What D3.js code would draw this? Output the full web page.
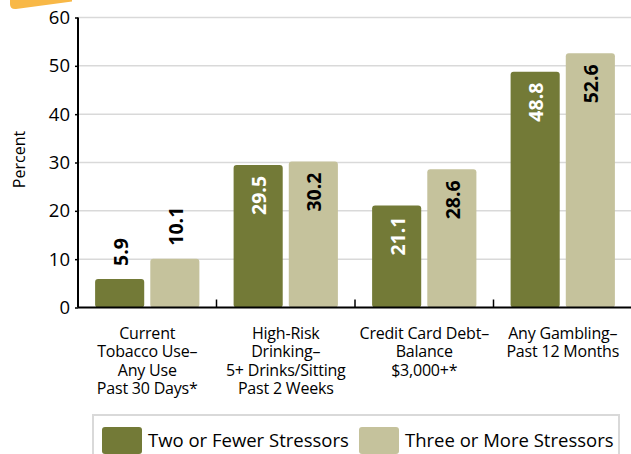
<!DOCTYPE html>
<html>
<head>
<meta charset="utf-8">
<script src="https://cdn.jsdelivr.net/npm/d3@7"></script>
<style>
  body { margin: 0; background: #fff; overflow: hidden; }
  svg { display: block; font-family: "Open Sans", sans-serif; }
</style>
</head>
<body>
<svg id="chart" width="631" height="454"></svg>
<script>
// data
const categories = [
  ['Current', 'Tobacco Use–', 'Any Use', 'Past 30 Days*'],
  ['High-Risk', 'Drinking–', '5+ Drinks/Sitting', 'Past 2 Weeks'],
  ['Credit Card Debt–', 'Balance', '$3,000+*'],
  ['Any Gambling–', 'Past 12 Months']
];
const seriesNames = ['Two or Fewer Stressors', 'Three or More Stressors'];
const twoOrFewer = [5.9, 29.5, 21.1, 48.8];
const threeOrMore = [10.1, 30.2, 28.6, 52.6];
const yTicks = [0, 10, 20, 30, 40, 50, 60];

const colors = ['#737a37', '#c5c29c'];
const labelColors = ['#fff', '#000'];

const width = 631, height = 454;
const margin = { top: 17.5, right: -1, bottom: 146.5, left: 78 };
const innerWidth = width - margin.left - margin.right;
const innerHeight = height - margin.top - margin.bottom;

const svg = d3.select('#chart');

// orange tab in the corner
svg.append('path')
  .attr('d', 'M14,0 L72,0 L72,1.5 L16,9 Q10,9.5 10,4 L10,0 Z')
  .attr('fill', '#f8b847');

const g = svg.append('g')
  .attr('transform', `translate(${margin.left},${margin.top})`);

const x = d3.scaleBand()
  .domain(d3.range(categories.length))
  .range([0, innerWidth])
  .padding(0);

const xSub = d3.scaleBand()
  .domain([0, 1])
  .range([0, x.bandwidth()])
  .paddingInner(0.11)
  .paddingOuter(0.31);

const y = d3.scaleLinear()
  .domain([0, 60])
  .range([innerHeight, 0]);

// gridlines
g.append('g')
  .selectAll('line')
  .data(yTicks.filter(d => d > 0))
  .join('line')
    .attr('x1', 0)
    .attr('x2', innerWidth)
    .attr('y1', d => y(d))
    .attr('y2', d => y(d))
    .attr('stroke', '#d9d9d9')
    .attr('stroke-width', 1.5);

// y axis
const yAxis = g.append('g')
  .call(d3.axisLeft(y).tickValues(yTicks).tickSize(3).tickPadding(5));
yAxis.select('.domain').attr('stroke', '#000').attr('stroke-width', 2).attr('d', `M0,${innerHeight}V0`);
yAxis.selectAll('.tick line').attr('stroke', '#000').attr('stroke-width', 1.5);
yAxis.selectAll('.tick text')
  .attr('font-size', 18.5)
  .attr('font-family', '"Open Sans", sans-serif')
  .attr('fill', '#000');

// y label
g.append('text')
  .attr('transform', 'rotate(-90)')
  .attr('x', -(innerHeight / 2) + 3)
  .attr('y', -margin.left + 25)
  .attr('text-anchor', 'middle')
  .attr('font-size', 16)
  .text('Percent');

// bars
const rows = categories.map((c, i) => [twoOrFewer[i], threeOrMore[i]]);
const groups = g.selectAll('.grp')
  .data(rows)
  .join('g')
    .attr('transform', (d, i) => `translate(${x(i)},0)`);

groups.selectAll('rect')
  .data(d => d.map((v, s) => ({ v, s })))
  .join('rect')
    .attr('x', d => xSub(d.s))
    .attr('y', d => y(d.v))
    .attr('width', xSub.bandwidth())
    .attr('height', d => innerHeight - y(d.v))
    .attr('rx', 3)
    .attr('fill', d => colors[d.s]);

// value labels, inside the bar if it is tall enough
groups.selectAll('.val')
  .data(d => d.map((v, s) => ({ v, s })))
  .join('text')
    .attr('class', 'val')
    .attr('transform', d => {
      const inside = d.v > 15;
      const ty = inside ? y(d.v) + 11 : y(d.v) - 13;
      return `translate(${xSub(d.s) + xSub.bandwidth() / 2 + 1},${ty}) rotate(-90)`;
    })
    .attr('text-anchor', d => d.v > 15 ? 'end' : 'start')
    .attr('dy', '0.36em')
    .attr('font-size', 19.5)
    .attr('font-weight', 'bold')
    .attr('fill', d => d.v > 15 ? labelColors[d.s] : '#000')
    .text(d => d.v.toFixed(1));

// x axis
g.append('line')
  .attr('x1', 0).attr('x2', innerWidth + 2)
  .attr('y1', innerHeight).attr('y2', innerHeight)
  .attr('stroke', '#000').attr('stroke-width', 2);

g.append('g')
  .selectAll('line')
  .data(d3.range(1, categories.length + 1))
  .join('line')
    .attr('x1', d => d * x.step())
    .attr('x2', d => d * x.step())
    .attr('y1', innerHeight)
    .attr('y2', innerHeight - 8)
    .attr('stroke', '#000')
    .attr('stroke-width', 1.5);

// category labels
const catText = g.append('g')
  .selectAll('text')
  .data(categories)
  .join('text')
    .attr('x', (d, i) => x(i) + x.bandwidth() / 2)
    .attr('y', innerHeight + 31)
    .attr('text-anchor', 'middle')
    .attr('font-size', 16)
    .attr('letter-spacing', '-0.2');

catText.selectAll('tspan')
  .data(d => d)
  .join('tspan')
    .attr('x', function() { return this.parentNode.getAttribute('x'); })
    .attr('dy', (d, i) => i === 0 ? 0 : 18.5)
    .text(d => d);

// legend
const legend = svg.append('g').attr('transform', 'translate(93,415)');
legend.append('rect')
  .attr('width', 526)
  .attr('height', 60)
  .attr('fill', '#fff')
  .attr('stroke', '#d9d9d9')
  .attr('stroke-width', 2);

const legendX = [9, 266];
const item = legend.selectAll('.item')
  .data(seriesNames)
  .join('g')
    .attr('class', 'item')
    .attr('transform', (d, i) => `translate(${legendX[i]},12)`);

item.append('rect')
  .attr('width', 40)
  .attr('height', 27)
  .attr('rx', 3)
  .attr('fill', (d, i) => colors[i]);

item.append('text')
  .attr('x', 46)
  .attr('y', 20)
  .attr('font-size', 18.5)
  .text(d => d);
</script>
</body>
</html>
